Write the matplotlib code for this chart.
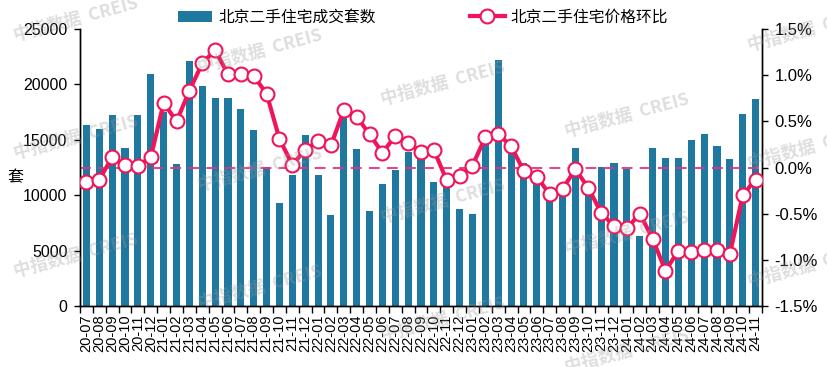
import numpy as np
import matplotlib
matplotlib.use('Agg')
import matplotlib.pyplot as plt
from matplotlib.ticker import FuncFormatter, FixedLocator

plt.rcParams['font.family'] = ['Liberation Sans', 'Noto Sans CJK SC']
plt.rcParams['axes.unicode_minus'] = False

months = ['20-07', '20-08', '20-09', '20-10', '20-11', '20-12',
          '21-01', '21-02', '21-03', '21-04', '21-05', '21-06',
          '21-07', '21-08', '21-09', '21-10', '21-11', '21-12',
          '22-01', '22-02', '22-03', '22-04', '22-05', '22-06',
          '22-07', '22-08', '22-09', '22-10', '22-11', '22-12',
          '23-01', '23-02', '23-03', '23-04', '23-05', '23-06',
          '23-07', '23-08', '23-09', '23-10', '23-11', '23-12',
          '24-01', '24-02', '24-03', '24-04', '24-05', '24-06',
          '24-07', '24-08', '24-09', '24-10', '24-11']

volume = [16350, 16000, 17250, 14300, 17250, 20950, 17500, 12830, 22140, 19880,
          18800, 18800, 17800, 15900, 12500, 9340, 11840, 15450, 11840, 8220,
          17100, 14190, 8580, 11020, 12290, 13920, 13500, 11200, 10750, 8770,
          8310, 14850, 22230, 13950, 12900, 11200, 9730, 10180, 14280, 10400,
          12590, 12900, 12380, 6330, 14300, 13400, 13400, 15000, 15540, 14400,
          13280, 17350, 18700]

price_mom = [-0.16, -0.13, 0.11, 0.03, 0.02, 0.11, 0.70, 0.50, 0.83, 1.13,
             1.27, 1.01, 1.01, 0.99, 0.80, 0.31, 0.03, 0.19, 0.29, 0.24,
             0.62, 0.55, 0.36, 0.16, 0.34, 0.27, 0.17, 0.19, -0.14, -0.09,
             0.02, 0.33, 0.365, 0.23, -0.04, -0.10, -0.29, -0.23, -0.02, -0.22,
             -0.49, -0.635, -0.66, -0.50, -0.77, -1.12, -0.90, -0.92, -0.89, -0.89,
             -0.94, -0.30, -0.13]

bar_label = '北京二手住宅成交套数'
line_label = '北京二手住宅价格环比'

bar_color = '#1f78a0'
line_color = '#f0145a'
dash_color = '#e6337f'

W, H = 828, 367
fig = plt.figure(figsize=(W / 100, H / 100), dpi=100)
ax = fig.add_axes([80 / W, 1 - 306 / H, (762 - 80) / W, (306 - 29) / H])
ax2 = ax.twinx()

x = np.arange(len(months))
bars = ax.bar(x, volume, width=0.55, color=bar_color, zorder=2, label=bar_label)
ax.set_xlim(-0.5, len(months) - 0.5)
ax.set_ylim(0, 25000)
ax.set_yticks([0, 5000, 10000, 15000, 20000, 25000])
ax.yaxis.set_major_formatter(FuncFormatter(lambda v, p: '%d' % v))

ax.set_xticks(x)
ax.set_xticklabels(months, rotation=90, fontsize=10.5)
ax.xaxis.set_minor_locator(FixedLocator(np.arange(len(months) + 1) - 0.5))
ax.tick_params(axis='x', which='major', length=0, pad=6)
ax.tick_params(axis='x', which='minor', length=5, width=1, direction='out')
ax.tick_params(axis='y', length=4, width=1, direction='out', labelsize=11.5, pad=5)

ax.spines['top'].set_visible(False)
ax2.spines['top'].set_visible(False)
for sp in ['left', 'bottom', 'right']:
    ax2.spines[sp].set_linewidth(1)
    ax.spines[sp].set_linewidth(1)

ax2.set_ylim(-1.5, 1.5)
ax2.set_yticks([-1.5, -1.0, -0.5, 0.0, 0.5, 1.0, 1.5])
ax2.yaxis.set_major_formatter(FuncFormatter(lambda v, p: '%.1f%%' % v))
ax2.tick_params(axis='y', length=4, width=1, direction='out', labelsize=12, pad=5)
ax2.axhline(0, color=dash_color, lw=1.3, ls=(0, (6, 4)), zorder=1)
line, = ax2.plot(x, price_mom, color=line_color, lw=3, marker='o', markersize=10,
                 markerfacecolor='white', markeredgecolor=line_color,
                 markeredgewidth=1.5, zorder=3, label=line_label)

fig.legend([bars, line], [bar_label, line_label], loc='center',
           bbox_to_anchor=(423 / W, 1 - 17 / H), ncol=2, frameon=False,
           fontsize=11.3, handlelength=2.2, handletextpad=0.4, columnspacing=6.0)

fig.text(15 / W, 1 - 178 / H, '套', fontsize=11.5, ha='center', va='center')

# watermark
for c in range(5):
    for r in range(-1, 4):
        cx = 10 + 183.5 * c + 66
        cy = 20 + 32 * c + 118 * r
        if cy < 0 or cy > H + 5:
            continue
        fig.text(cx / W, 1 - cy / H, '中指数据  CREIS', fontsize=12.5,
                 fontweight='bold', color='#999999', alpha=0.32,
                 rotation=15, ha='center', va='center', zorder=10,
                 family=['Noto Sans CJK SC'])

fig.savefig('out.png', dpi=100)
